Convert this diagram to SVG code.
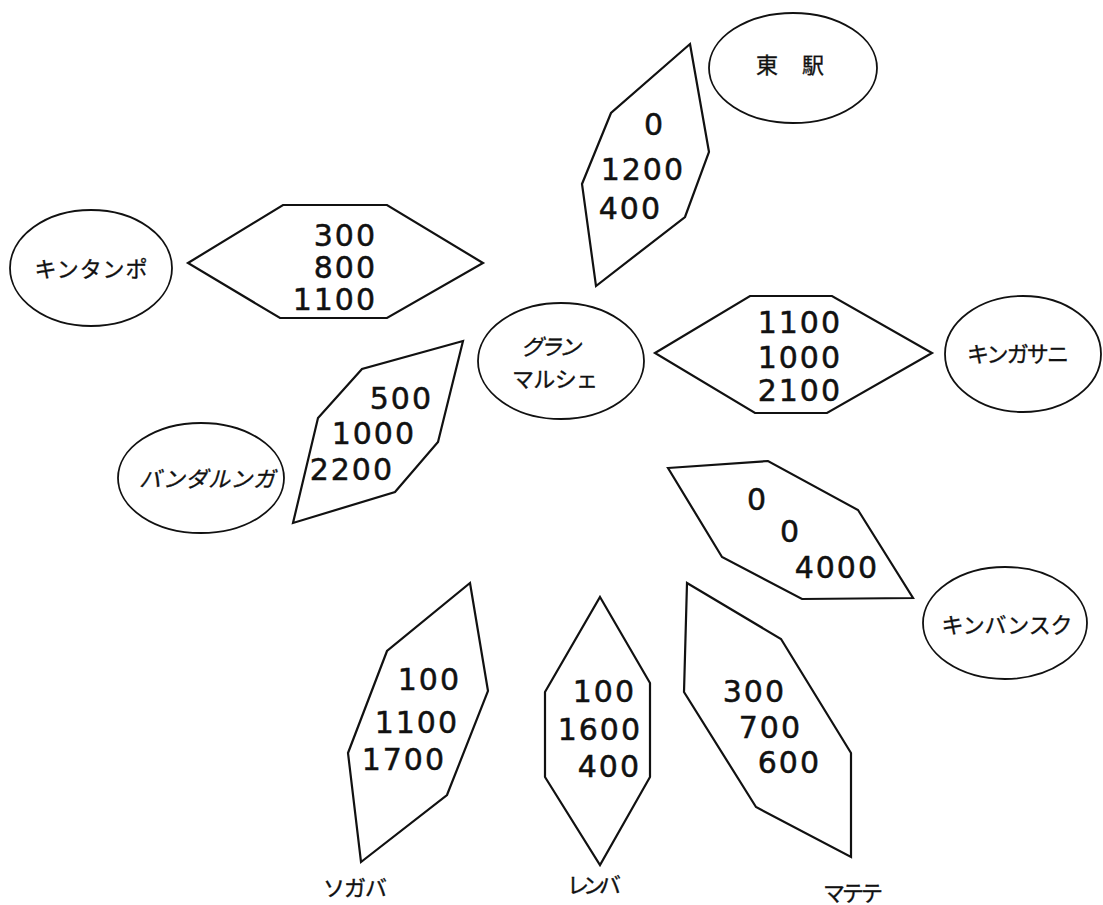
<svg xmlns="http://www.w3.org/2000/svg" width="1103" height="905" viewBox="0 0 1103 905">
  <style>
    .bg { fill: #ffffff; }
    .stn { fill: none; stroke: #111; stroke-width: 1.8; }
    .box { fill: none; stroke: #111; stroke-width: 2.2; stroke-linejoin: miter; }
    .num { font-family: "DejaVu Sans", "Liberation Sans", sans-serif; font-size: 30px; letter-spacing: 2px; fill: #111; stroke: #111; stroke-width: 0.5; text-anchor: end; }
    .lbl { font-family: "Noto Sans CJK JP", "Noto Sans CJK SC", sans-serif; font-size: 22px; fill: #111; stroke: #111; stroke-width: 0.35; text-anchor: middle; dominant-baseline: central; }
    .slant { font-style: italic; }
  </style>
  <rect class="bg" x="0" y="0" width="1103" height="905"/>

  <!-- station ellipses with their names -->
  <g id="higashieki">
    <ellipse class="stn" cx="793" cy="68" rx="84" ry="55"/>
    <text class="lbl" x="790" y="63" font-size="26" textLength="68" lengthAdjust="spacing" xml:space="preserve">東 駅</text>
  </g>
  <g id="kintampo">
    <ellipse class="stn" cx="91" cy="268" rx="81" ry="58"/>
    <text class="lbl" x="91" y="267" textLength="113" lengthAdjust="spacing">キンタンポ</text>
  </g>
  <g id="grand-marche">
    <ellipse class="stn" cx="561" cy="361" rx="83" ry="58"/>
    <text class="lbl slant" x="551" y="345" textLength="60" lengthAdjust="spacing">グラン</text>
    <text class="lbl" x="555" y="377" textLength="86" lengthAdjust="spacing">マルシェ</text>
  </g>
  <g id="kingasa">
    <ellipse class="stn" cx="1023" cy="354" rx="78" ry="58"/>
    <text class="lbl" x="1018" y="352" textLength="102" lengthAdjust="spacing">キンガサニ</text>
  </g>
  <g id="bandalungwa">
    <ellipse class="stn" cx="201" cy="478" rx="83" ry="55"/>
    <text class="lbl slant" x="207" y="477" textLength="136" lengthAdjust="spacing">バンダルンガ</text>
  </g>
  <g id="kimbanseke">
    <ellipse class="stn" cx="1005" cy="623" rx="82" ry="56"/>
    <text class="lbl" x="1007" y="623" textLength="131" lengthAdjust="spacing">キンバンスク</text>
  </g>
  <g id="selembao">
    <text class="lbl" x="355" y="886" textLength="64" lengthAdjust="spacing">ソガバ</text>
  </g>
  <g id="lemba">
    <text class="lbl" x="594" y="883" textLength="54" lengthAdjust="spacing">レンバ</text>
  </g>
  <g id="matete">
    <text class="lbl" x="853" y="891" textLength="60" lengthAdjust="spacing">マテテ</text>
  </g>

  <!-- value boxes -->
  <g id="box-higashieki">
    <polygon class="box" points="690,44 709,152 685,217 596,286 582,184 611,113"/>
    <text class="num" x="665" y="135">0</text>
    <text class="num" x="685" y="180">1200</text>
    <text class="num" x="662" y="219">400</text>
  </g>
  <g id="box-kintampo">
    <polygon class="box" points="188,263 283,205 387,205 483,263 387,318 280,318"/>
    <text class="num" x="377" y="246" font-size="27" letter-spacing="3.5">300</text>
    <text class="num" x="377" y="278" font-size="27" letter-spacing="3.5">800</text>
    <text class="num" x="377" y="310" font-size="27" letter-spacing="3.5">1100</text>
  </g>
  <g id="box-kingasa">
    <polygon class="box" points="655,353 750,296 832,296 932,353 827,413 755,413"/>
    <text class="num" x="842" y="333">1100</text>
    <text class="num" x="842" y="368">1000</text>
    <text class="num" x="842" y="401">2100</text>
  </g>
  <g id="box-bandalungwa">
    <polygon class="box" points="463,341 438,442 395,492 293,523 318,418 362,369"/>
    <text class="num" x="433" y="409">500</text>
    <text class="num" x="416" y="444">1000</text>
    <text class="num" x="394" y="480">2200</text>
  </g>
  <g id="box-kimbanseke">
    <polygon class="box" points="668,468 768,461 858,510 913,598 802,599 722,557"/>
    <text class="num" x="768" y="510">0</text>
    <text class="num" x="801" y="542">0</text>
    <text class="num" x="879" y="578">4000</text>
  </g>
  <g id="box-selembao">
    <polygon class="box" points="470,583 488,691 447,795 361,862 348,753 387,651"/>
    <text class="num" x="461" y="690">100</text>
    <text class="num" x="459" y="733">1100</text>
    <text class="num" x="446" y="770">1700</text>
  </g>
  <g id="box-lemba">
    <polygon class="box" points="600,597 650,683 650,777 600,865 545,777 545,692"/>
    <text class="num" x="636" y="702">100</text>
    <text class="num" x="642" y="740">1600</text>
    <text class="num" x="641" y="777">400</text>
  </g>
  <g id="box-matete">
    <polygon class="box" points="687,583 781,639 851,753 851,857 756,807 684,692"/>
    <text class="num" x="786" y="702">300</text>
    <text class="num" x="802" y="738">700</text>
    <text class="num" x="821" y="773">600</text>
  </g>
</svg>
